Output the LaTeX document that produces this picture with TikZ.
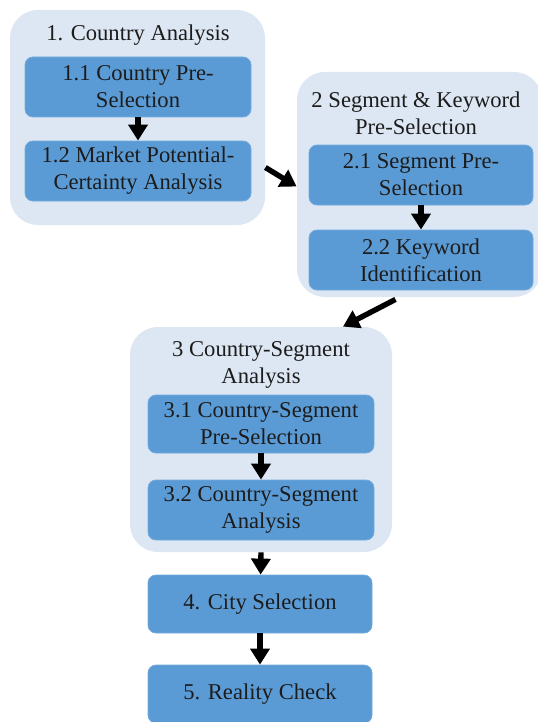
\documentclass[tikz,border=0pt]{standalone}
\usepackage{fontspec}
\setmainfont{Liberation Serif}
\usetikzlibrary{arrows.meta,positioning}
\definecolor{paleblue}{HTML}{DDE7F3}
\definecolor{stepblue}{HTML}{5B9BD5}
\definecolor{inkgray}{HTML}{1C1C1C}
\tikzset{group/.style={fill=paleblue,rounded corners=14pt,inner sep=0pt},
  stepbox/.style={fill=stepblue,draw=stepblue!85!white,line width=0.4pt,rounded corners=4pt,
  minimum width=113pt,minimum height=30pt,align=center,text=inkgray,
  font=\fontsize{11.3}{13.5}\selectfont,inner sep=0pt},
  title/.style={align=center,text=inkgray,font=\fontsize{11.3}{13.5}\selectfont,inner sep=0pt},
  flow/.style={-{Triangle[length=8pt,width=9.5pt]},line width=2.7pt,draw=black}}
\begin{document}
\begin{tikzpicture}[x=0.5pt,y=-0.5pt]
\useasboundingbox (0,0) rectangle (537,722);
% containers
\node[group,minimum width=127.5pt,minimum height=107.5pt] (g1) at (137.5,117.5) {};
\node[group,minimum width=122.5pt,minimum height=112.5pt] (g2) at (419.5,184.5) {};
\node[group,minimum width=131pt,minimum height=112.5pt] (g3) at (261,439.5) {};
\node[title] (t1) at (138,35) {1. Country Analysis};
\node[title] (t2) at (416,113) {2 Segment \& Keyword\\Pre-Selection};
\node[title] (t3) at (261,365) {3 Country-Segment\\Analysis};
% steps
\node[stepbox] (b11) at (138,87) {1.1 Country Pre-\\Selection};
\node[stepbox] (b12) at (138,171) {1.2 Market Potential-\\Certainty Analysis};
\node[stepbox,minimum width=112pt] (b21) at (421,175) {2.1 Segment Pre-\\Selection};
\node[stepbox,minimum width=112pt] (b22) at (421,260) {2.2 Keyword\\Identification};
\node[stepbox,minimum height=29pt] (b31) at (261,424) {3.1 Country-Segment\\Pre-Selection};
\node[stepbox] (b32) at (261,510) {3.2 Country-Segment\\Analysis};
\node[stepbox,minimum width=112pt,minimum height=29pt] (b4) at (260,604) {4. City Selection};
\node[stepbox,minimum width=112pt,minimum height=29pt] (b5) at (260,694) {5. Reality Check};
% arrows
\draw[flow] (b11)--(b12);\draw[flow] (b21)--(b22);\draw[flow] (b31)--(b32);
\draw[flow] ([yshift=-25pt]g1.east)--([yshift=-1pt]g2.west);
\draw[flow] ([xshift=-12pt,yshift=-1pt]g2.south)--([xshift=41pt]g3.north);
\draw[flow] (g3.south)--(b4);\draw[flow] (b4)--(b5);
\end{tikzpicture}
\end{document}
